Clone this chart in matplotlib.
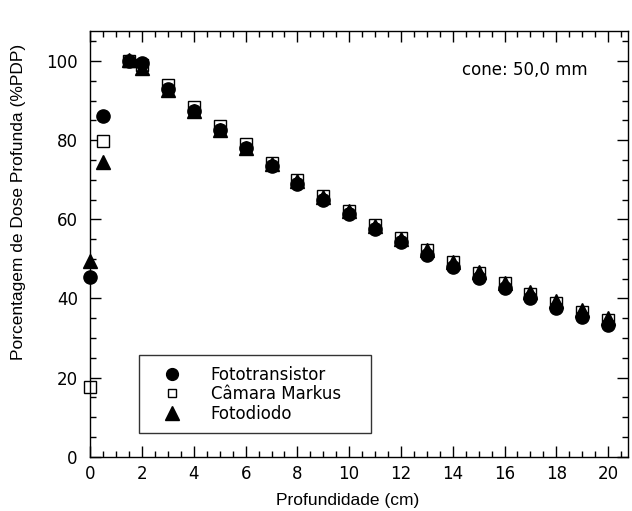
import matplotlib
matplotlib.use("Agg")
import matplotlib.pyplot as plt
from matplotlib.ticker import MultipleLocator

plt.rcParams['font.family'] = ['DejaVu Sans']

depth = [0, 0.5, 1.5, 2, 3, 4, 5, 6, 7, 8, 9, 10, 11, 12, 13, 14, 15, 16, 17, 18, 19, 20]
fototransistor = [45.5, 86, 100, 99.5, 93, 87.5, 82.5, 78, 73.5, 69, 65, 61.3, 57.6, 54.2, 51, 48, 45.2, 42.6, 40, 37.6, 35.3, 33.3]
markus = [17.5, 79.8, 100, 99, 94, 88.5, 83.5, 79, 74.3, 70, 66, 62.2, 58.6, 55.3, 52.3, 49.3, 46.5, 43.8, 41.2, 38.9, 36.6, 34.5]
fotodiodo = [49.5, 74.5, 100.2, 98.3, 92.7, 87.5, 82.5, 78, 74, 69.7, 65.7, 62, 58.3, 55, 52.2, 49.3, 46.7, 44, 41.7, 39.3, 37, 35]

W, H = 632, 511
fig = plt.figure(figsize=(W / 100, H / 100), dpi=100)
ax_l, ax_r, ax_t, ax_b = 90.3, 628.0, 31.0, 456.7
ax = fig.add_axes([ax_l / W, 1 - ax_b / H, (ax_r - ax_l) / W, (ax_b - ax_t) / H])

ax.plot(depth, fototransistor, 'o', color='black', markersize=9.5, label='Fototransistor',
        zorder=3, clip_on=False)
ax.plot(depth, markus, 's', markerfacecolor='white', markeredgecolor='black', markeredgewidth=1.0,
        markersize=9, label='Câmara Markus', zorder=2, clip_on=False)
ax.plot(depth, fotodiodo, '^', color='black', markersize=10, label='Fotodiodo', zorder=4,
        clip_on=False)

ax.set_xlim(0, 20.77)
ax.set_ylim(0, 107.6)
ax.xaxis.set_major_locator(MultipleLocator(2))
ax.xaxis.set_minor_locator(MultipleLocator(0.5))
ax.yaxis.set_major_locator(MultipleLocator(20))
ax.yaxis.set_minor_locator(MultipleLocator(5))
ax.tick_params(which='both', direction='in', top=True, right=True, labelsize=12, width=1)
ax.tick_params(which='major', length=8)
ax.tick_params(which='minor', length=4)
ax.tick_params(axis='x', pad=6)
ax.tick_params(axis='y', pad=9)
for s in ax.spines.values():
    s.set_linewidth(1)

lab_font = dict(family=['Liberation Sans', 'DejaVu Sans'], size=12.5)
ax.set_xlabel('Profundidade (cm)', fontdict=lab_font)
ax.set_ylabel('Porcentagem de Dose Profunda (%PDP)', fontdict=lab_font)
ax.xaxis.label.set_va('center')
ax.yaxis.label.set_va('center')
ax.xaxis.set_label_coords(0.478, -0.103)
ax.yaxis.set_label_coords(-0.133, 0.598)

ax.text((462 - ax_l) / (ax_r - ax_l), (ax_b - 70) / (ax_b - ax_t), 'cone: 50,0 mm',
        transform=ax.transAxes, ha='left', va='center', fontsize=12)

leg = ax.legend(loc='upper left', bbox_to_anchor=(139 / W, 0.0, 232 / W, 1 - 355 / H),
                bbox_transform=fig.transFigure, mode='expand', borderaxespad=0,
                frameon=True, fancybox=False, edgecolor='black', fontsize=12,
                borderpad=0.63, labelspacing=0.09, handlelength=2.69, handletextpad=0.99)
leg.get_frame().set_linewidth(1)
hs = leg.legend_handles
hs[0].set_markersize(8.5)
hs[1].set_markersize(6)
hs[2].set_markersize(9.5)

fig.savefig('out.png', dpi=100)
